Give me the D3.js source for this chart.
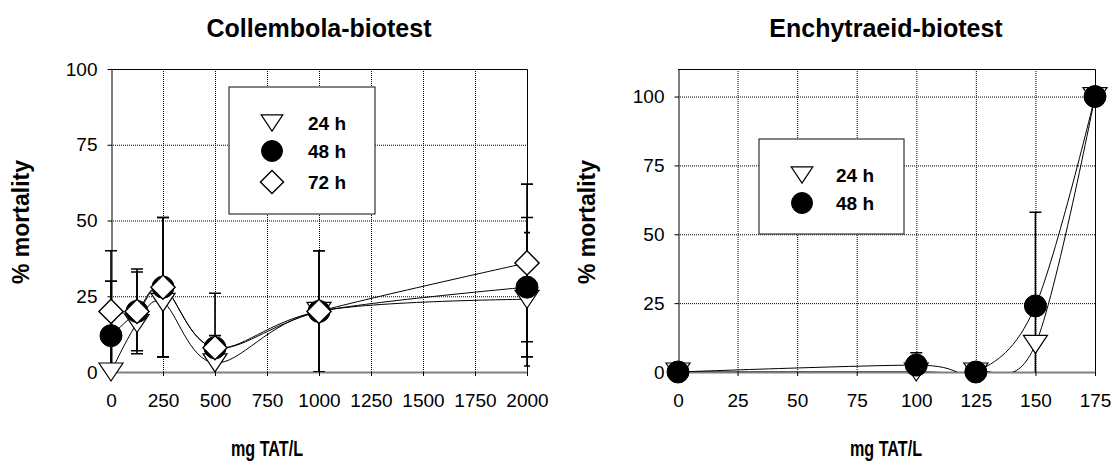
<!DOCTYPE html>
<html>
<head>
<meta charset="utf-8">
<script src="https://cdn.jsdelivr.net/npm/d3@7"></script>
<style>
  html, body { margin: 0; padding: 0; background: #fff; }
  svg { display: block; font-family: "Liberation Sans", Arial, sans-serif; }
</style>
</head>
<body>
<svg id="chart" width="1113" height="463"></svg>
<script>
// ---- Collembola biotest: mean mortality (%) and SD per exposure time ----
const colDose = [0, 125, 250, 500, 1000, 2000];
const col24 = [0, 16, 23, 3, 20, 24];
const col24sd = [0, 0, 0, 0, 0, 22];
const col48 = [12, 20, 28, 8, 20, 28];
const col48sd = [18, 13, 23, 4, 20, 23];
const col72 = [20, 20, 28, 8, 20, 36];
const col72sd = [20, 14, 23, 18, 20, 26];
const colXTicks = [0, 250, 500, 750, 1000, 1250, 1500, 1750, 2000];
const colYTicks = [0, 25, 50, 75, 100];

// ---- Enchytraeid biotest ----
const encDose = [0, 100, 125, 150, 175];
const enc24 = [0, 0, 0, 10, 100];
const enc24sd = [0, 0, 0, 0, 0];
const enc48 = [0, 2.5, 0, 24, 100];
const enc48sd = [0, 4.5, 0, 34, 0];
const encXTicks = [0, 25, 50, 75, 100, 125, 150, 175];
const encYTicks = [0, 25, 50, 75, 100];

const svg = d3.select("#chart");

// marker painters
const marker = {
  tri(g, x, y, s) {
    const w = s * 0.6, h = s * 0.9;
    g.append("path")
      .attr("d", `M${x - w},${y - h / 2}L${x + w},${y - h / 2}L${x},${y + h / 2}Z`)
      .attr("fill", "#fff").attr("stroke", "#000").attr("stroke-width", 1.2);
  },
  circ(g, x, y, s) {
    g.append("circle").attr("cx", x).attr("cy", y).attr("r", s / 2)
      .attr("fill", "#000").attr("stroke", "#000");
  },
  dia(g, x, y, s) {
    const r = s * 0.55;
    g.append("path")
      .attr("d", `M${x},${y - r}L${x + r},${y}L${x},${y + r}L${x - r},${y}Z`)
      .attr("fill", "#fff").attr("stroke", "#000").attr("stroke-width", 1.4);
  }
};

function panel(cfg) {
  const { id, x0, x1, yT, yB, xMax, yMax, xTicks, yTicks, series, title, titleX,
          xLabelX, yLabelX, legend } = cfg;
  const x = d3.scaleLinear().domain([0, xMax]).range([x0, x1]);
  const y = d3.scaleLinear().domain([0, yMax]).range([yB, yT]);
  const g = svg.append("g");

  // dotted grid
  const grid = g.append("g").attr("stroke", "#000").attr("stroke-width", 1)
    .attr("stroke-dasharray", "1,1");
  grid.selectAll(".gx").data(xTicks.filter(t => t > 0 && t < xMax)).join("line")
    .attr("x1", d => x(d) + 0.5).attr("x2", d => x(d) + 0.5)
    .attr("y1", yT).attr("y2", yB);
  grid.selectAll(".gy").data(yTicks.filter(t => t > 0 && t < yMax)).join("line")
    .attr("x1", x0).attr("x2", x1)
    .attr("y1", d => y(d) + 0.5).attr("y2", d => y(d) + 0.5);

  // frame: top and right edges
  g.append("path").attr("d", `M${x0},${yT + 0.5}H${x1 + 0.5}V${yB}`)
    .attr("fill", "none").attr("stroke", "#000").attr("stroke-width", 1);

  // axes
  const fmt = d3.format("d");
  const ya = g.append("g").attr("transform", `translate(${x0 + 0.5},0)`)
    .call(d3.axisLeft(y).tickValues(yTicks).tickFormat(fmt)
      .tickSize(4).tickSizeOuter(0).tickPadding(10));
  ya.select(".domain").attr("stroke", "#000");
  ya.selectAll("text").attr("font-size", 19).attr("fill", "#000");
  const xa = g.append("g").attr("transform", `translate(0,${yB})`)
    .call(d3.axisBottom(x).tickValues(xTicks).tickFormat(fmt)
      .tickSize(4).tickSizeOuter(0).tickPadding(18));
  xa.select(".domain").attr("stroke", "#808080").attr("stroke-width", 2);
  xa.selectAll("text").attr("font-size", 19).attr("fill", "#000");

  // clip: vertical limits of the plot area, a little slack sideways
  svg.append("clipPath").attr("id", id).append("rect")
    .attr("x", x0 - 20).attr("y", yT).attr("width", x1 - x0 + 40).attr("height", yB - yT);
  const plot = g.append("g").attr("clip-path", `url(#${id})`);

  const line = d3.line().x(d => x(d[0])).y(d => y(d[1])).curve(d3.curveCardinal.tension(0));
  series.forEach(s => {
    plot.append("path").attr("d", line(s.dose.map((d, i) => [d, s.val[i]])))
      .attr("fill", "none").attr("stroke", "#000").attr("stroke-width", 1);
  });
  series.forEach(s => {
    s.dose.forEach((d, i) => {
      const sd = s.sd[i];
      if (!sd) return;
      const cx = x(d), top = y(s.val[i] + sd), bot = y(s.val[i] - sd), cw = s.cap;
      plot.append("path")
        .attr("d", `M${cx},${top}V${bot}M${cx - cw},${top}H${cx + cw}M${cx - cw},${bot}H${cx + cw}`)
        .attr("stroke", "#000").attr("stroke-width", 1.6).attr("fill", "none");
    });
  });
  series.forEach(s => {
    s.dose.forEach((d, i) => marker[s.shape](g, x(d), y(s.val[i]), s.size));
  });

  // titles
  g.append("text").attr("x", titleX).attr("y", 37).attr("text-anchor", "middle")
    .attr("font-size", 25).attr("font-weight", "bold").text(title);
  g.append("text").attr("x", xLabelX).attr("y", 456).attr("text-anchor", "middle")
    .attr("font-size", 22).attr("font-weight", "bold")
    .attr("textLength", 72).attr("lengthAdjust", "spacingAndGlyphs").text("mg TAT/L");
  g.append("text").attr("transform", `translate(${yLabelX},222) rotate(-90)`)
    .attr("text-anchor", "middle").attr("font-size", 23).attr("font-weight", "bold")
    .text("% mortality");

  // legend
  const lg = g.append("g");
  lg.append("rect").attr("x", legend.x).attr("y", legend.y)
    .attr("width", legend.w).attr("height", legend.h)
    .attr("fill", "#fff").attr("stroke", "#333").attr("stroke-width", 1.2);
  legend.items.forEach((it, i) => {
    const cy = legend.rows[i];
    marker[it.shape](lg, legend.mx, cy, it.size);
    lg.append("text").attr("x", legend.tx).attr("y", cy + 7)
      .attr("font-size", 19).attr("font-weight", "bold").text(it.label);
  });
}

panel({
  id: "clipCol", x0: 111, x1: 527, yT: 69, yB: 372, xMax: 2000, yMax: 100,
  xTicks: colXTicks, yTicks: colYTicks, title: "Collembola-biotest", titleX: 319,
  xLabelX: 267, yLabelX: 29,
  series: [
    { dose: colDose, val: col24, sd: col24sd, shape: "tri", size: 20, cap: 3 },
    { dose: colDose, val: col48, sd: col48sd, shape: "circ", size: 22, cap: 6 },
    { dose: colDose, val: col72, sd: col72sd, shape: "dia", size: 22, cap: 6 }
  ],
  legend: {
    x: 229, y: 87, w: 146, h: 127, mx: 272, tx: 308, rows: [123, 151, 182],
    items: [
      { shape: "tri", size: 18, label: "24 h" },
      { shape: "circ", size: 21, label: "48 h" },
      { shape: "dia", size: 21, label: "72 h" }
    ]
  }
});

panel({
  id: "clipEnc", x0: 678, x1: 1095, yT: 69, yB: 372, xMax: 175, yMax: 110,
  xTicks: encXTicks, yTicks: encYTicks, title: "Enchytraeid-biotest", titleX: 886,
  xLabelX: 886, yLabelX: 595,
  series: [
    { dose: encDose, val: enc24, sd: enc24sd, shape: "tri", size: 20, cap: 3 },
    { dose: encDose, val: enc48, sd: enc48sd, shape: "circ", size: 22, cap: 6 }
  ],
  legend: {
    x: 759, y: 139, w: 145, h: 95, mx: 802, tx: 836, rows: [175, 203],
    items: [
      { shape: "tri", size: 18, label: "24 h" },
      { shape: "circ", size: 21, label: "48 h" }
    ]
  }
});
</script>
</body>
</html>
